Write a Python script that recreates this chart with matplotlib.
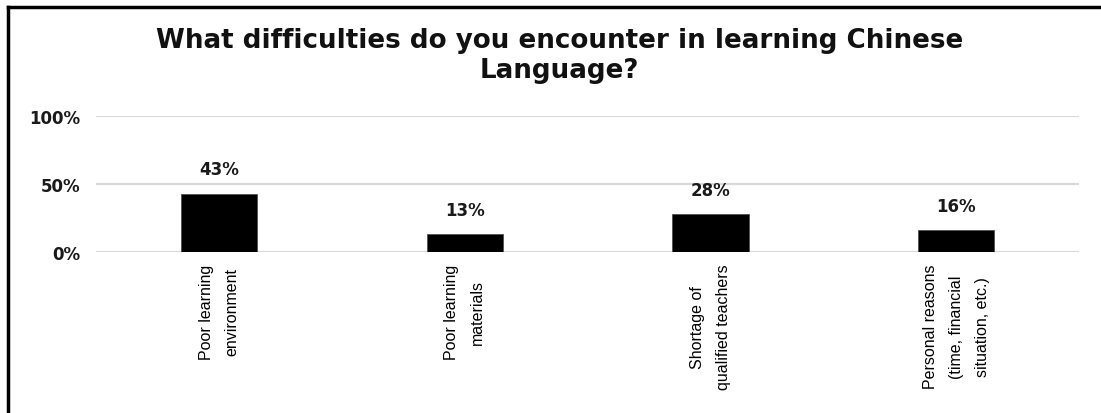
import matplotlib.pyplot as plt
from matplotlib.lines import Line2D

categories = ["Poor learning\nenvironment",
              "Poor learning\nmaterials",
              "Shortage of\nqualified teachers",
              "Personal reasons\n(time, financial\nsituation, etc.)"]
shares = [0.43, 0.13, 0.28, 0.16]
yticks = [0, 0.5, 1.0]
ytick_labels = ["0%", "50%", "100%"]

label_font = ["Liberation Sans Narrow", "Liberation Sans", "DejaVu Sans"]

fig = plt.figure(figsize=(11.01, 4.14), dpi=100)
ax = fig.add_axes([0.0872, 0.3889, 0.893, 0.3285])

x = range(len(categories))
bars = ax.bar(x, shares, width=0.31, color="black", edgecolor="#505050", linewidth=0.6, zorder=3)
for b, v in zip(bars, shares):
    ax.annotate(f"{round(v * 100)}%", (b.get_x() + b.get_width() / 2, v),
                xytext=(0, 11), textcoords="offset points", ha="center", va="bottom",
                fontsize=12, fontweight="bold", color="#1a1a1a")

ax.set_xlim(-0.5, len(categories) - 0.5)
ax.set_ylim(0, 1.0)
ax.set_yticks(yticks)
ax.set_yticklabels(ytick_labels, fontsize=12, fontweight="bold", color="#1a1a1a")
ax.set_xticks(list(x))
ax.set_xticklabels(categories, rotation=90, ha="center", va="top", multialignment="center",
                   fontsize=11.5, family=label_font, linespacing=1.9)
ax.tick_params(length=0)
ax.tick_params(axis="y", pad=11)
ax.tick_params(axis="x", pad=8.5)
ax.yaxis.grid(True, color="#d9d9d9", linewidth=1.6, zorder=0)
ax.set_axisbelow(True)
for s in ax.spines.values():
    s.set_visible(False)

fig.text(0.508, 0.865, "What difficulties do you encounter in learning Chinese\nLanguage?",
         ha="center", va="center", fontsize=18.8, fontweight="bold", linespacing=1.2,
         color="#111111")

# outer frame, only top and left edges are visible
fig.add_artist(Line2D([8 / 1101, 1], [1 - 8 / 414] * 2, transform=fig.transFigure,
                      color="black", linewidth=2.5))
fig.add_artist(Line2D([8 / 1101] * 2, [1 - 8 / 414, 0], transform=fig.transFigure,
                      color="black", linewidth=2.5))

fig.savefig("out.png", dpi=100)
